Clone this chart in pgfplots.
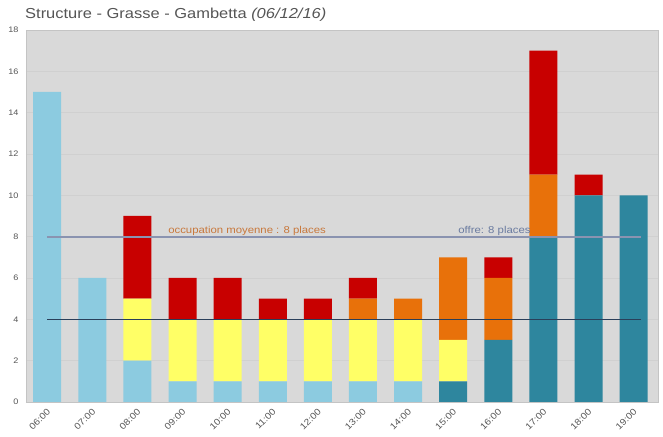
\documentclass[border=0pt]{standalone}
\usepackage{pgfplots}
\pgfplotsset{compat=1.18}
\usepackage{fontspec}
\setmainfont{Liberation Sans}
\newfontfamily\widesans[FakeStretch=1.14]{Liberation Sans}
\definecolor{bg}{HTML}{D9D9D9}
\definecolor{gridc}{HTML}{D0D0D0}
\definecolor{axc}{HTML}{C4C4C4}
\definecolor{lblue}{HTML}{8CCBE0}
\definecolor{teal}{HTML}{2E869E}
\definecolor{yel}{HTML}{FFFF66}
\definecolor{ora}{HTML}{E8710A}
\definecolor{redd}{HTML}{C80000}
\definecolor{offreline}{HTML}{8A93B0}
\definecolor{moyline}{HTML}{2A3F5A}
\definecolor{titlec}{HTML}{555555}
\definecolor{tickc}{HTML}{555555}
\definecolor{moytext}{HTML}{C8783C}
\definecolor{offtext}{HTML}{6A7BA0}
\begin{document}
\begin{tikzpicture}
\path[use as bounding box] (-26bp,-35bp) rectangle (637bp,402bp);
\begin{axis}[
  at={(0,0)}, anchor=south west,
  scale only axis,
  width=632bp, height=372bp,
  ybar stacked,
  bar width=28bp,
  xmin=-0.47, xmax=13.54,
  ymin=0, ymax=18,
  ytick={0,2,4,6,8,10,12,14,16,18},
  xtick={0,1,...,13},
  xticklabels={06:00,07:00,08:00,09:00,10:00,11:00,12:00,13:00,14:00,15:00,16:00,17:00,18:00,19:00},
  major tick length=0pt,
  /pgf/number format/assume math mode=true,
  tick label style={text=tickc},
  y tick label style={font=\widesans\fontsize{8}{9}\selectfont, xshift=-4bp},
  x tick label style={font=\widesans\fontsize{9}{10}\selectfont, rotate=45, anchor=north east, xshift=-1bp},
  axis background/.style={fill=bg},
  axis line style={draw=axc},
  ymajorgrids, grid style={draw=gridc, line width=0.5pt},
]
\addplot[fill=lblue, draw=none] coordinates {(0,15) (1,6) (2,2) (3,1) (4,1) (5,1) (6,1) (7,1) (8,1) (9,0) (10,0) (11,0) (12,0) (13,0)};
\addplot[fill=teal, draw=none] coordinates {(0,0) (1,0) (2,0) (3,0) (4,0) (5,0) (6,0) (7,0) (8,0) (9,1) (10,3) (11,8) (12,10) (13,10)};
\addplot[fill=yel, draw=none] coordinates {(0,0) (1,0) (2,3) (3,3) (4,3) (5,3) (6,3) (7,3) (8,3) (9,2) (10,0) (11,0) (12,0) (13,0)};
\addplot[fill=ora, draw=none] coordinates {(0,0) (1,0) (2,0) (3,0) (4,0) (5,0) (6,0) (7,1) (8,1) (9,4) (10,3) (11,3) (12,0) (13,0)};
\addplot[fill=redd, draw=none] coordinates {(0,0) (1,0) (2,4) (3,2) (4,2) (5,1) (6,1) (7,1) (8,0) (9,0) (10,1) (11,6) (12,1) (13,0)};
\end{axis}
\begin{axis}[
  at={(0,0)}, anchor=south west,
  scale only axis,
  width=632bp, height=372bp,
  xmin=-0.47, xmax=13.54,
  ymin=0, ymax=18,
  hide axis,
]
\addplot[draw=offreline, line width=2.2bp] coordinates {(0,8) (13.17,8)};
\addplot[draw=moyline, line width=0.9bp] coordinates {(0,4) (13.17,4)};
\node[anchor=west, text=moytext, font=\widesans\fontsize{10}{11}\selectfont, inner sep=0pt] at (axis cs:2.68,8.3) {occupation moyenne : 8 places};
\node[anchor=west, text=offtext, font=\widesans\fontsize{10}{11}\selectfont, inner sep=0pt] at (axis cs:9.11,8.3) {offre: 8 places};
\end{axis}
\node[anchor=west, text=titlec, font=\widesans\fontsize{14.5}{16}\selectfont, inner sep=0pt] at (-1bp,387bp) {Structure - Grasse - Gambetta \textit{(06/12/16)}};
\end{tikzpicture}
\end{document}
